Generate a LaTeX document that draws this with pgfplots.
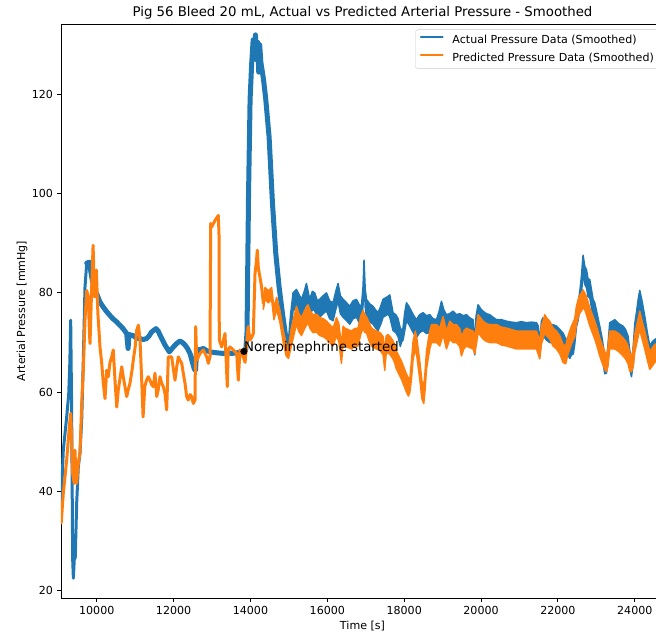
\documentclass[border=0pt]{standalone}
\usepackage{fontspec}
\setmainfont{DejaVu Sans}
\usepackage{pgfplots}
\pgfplotsset{compat=1.18}
\definecolor{mplblue}{HTML}{1F77B4}
\definecolor{mplorange}{HTML}{FF7F0E}

\newcommand{\ticksize}{\fontsize{11.07bp}{13bp}\selectfont}
\newcommand{\titlesize}{\fontsize{13.3bp}{16bp}\selectfont}

\begin{document}
\begin{tikzpicture}
\begin{axis}[
  name=main,
  scale only axis,
  width=603bp, height=574bp,
  xmin=9070, xmax=24760,
  ymin=18.5, ymax=134.2,
  scaled x ticks=false,
  scaled y ticks=false,
  axis line style={line width=0.9bp},
  tick style={line width=0.9bp, black},
  tick align=outside,
  tick pos=left,
  major tick length=3.9bp,
  xtick={10000,12000,14000,16000,18000,20000,22000,24000},
  xticklabels={10000,12000,14000,16000,18000,20000,22000,24000},
  ytick={20,40,60,80,100,120},
  yticklabels={20,40,60,80,100,120},
  ticklabel style={font=\ticksize},
  xticklabel style={inner sep=0pt, anchor=north, yshift=-3.9bp},
  yticklabel style={inner sep=0pt, anchor=east, xshift=-3.9bp},
  title={Pig 56 Bleed 20 mL, Actual vs Predicted Arterial Pressure - Smoothed},
  every axis title/.style={at={(axis description cs:0.5,1.0122)}, anchor=base, inner sep=0pt, font=\titlesize},
  xlabel={Time [s]},
  every axis x label/.style={at={(axis description cs:0.5,-0.0549)}, anchor=base, inner sep=0pt, font=\ticksize},
  ylabel={Arterial Pressure [mmHg]},
  every axis y label/.style={at={(axis description cs:-0.0595,0.5)}, rotate=90, anchor=base, inner sep=0pt, font=\ticksize},
  legend style={
    at={(1,1)}, anchor=north east, xshift=-5.5bp, yshift=-5.5bp,
    draw=black!20, rounded corners=2.5bp, fill=white, fill opacity=0.8, text opacity=1,
    font=\ticksize, inner xsep=4.4bp, inner ysep=5bp,
    row sep=7bp, column sep=8.9bp,
    nodes={inner sep=0pt, text height=8.6bp, text depth=2.4bp},
  },
  legend cell align=left,
  legend image code/.code={\draw[#1] (0bp,3.5bp) -- (22bp,3.5bp);},
  legend image post style={line width=1.7bp},
  every axis plot/.append style={line join=round, line cap=round},
]

% actual pressure, early transient
\addplot[mplblue, line width=3bp] table[x=t, y=p] {
t p
9075 37.6
9130 48.3
9218 55.0
9270 59.5
9300 66.0
9322 74.5
9345 58.0
9374 26.2
9392 22.5
9420 27.0
9440 26.5
9478 37.6
9520 44.9
9564 47.7
9609 54.4
9650 66.4
9694 81.1
9739 86.0
};
\addlegendentry{Actual Pressure Data (Smoothed)}

% actual pressure, recovery and norepinephrine peak
\addplot[mplblue, line width=5bp, forget plot] table[x=t, y=p] {
t p
9739 86.0
9806 86.2
9869 83.2
9954 80.1
10000 79.8
10080 78.2
10164 77.2
10250 76.3
10338 75.5
10420 74.8
10512 74.2
10600 73.5
10685 72.8
10780 71.8
10815 68.8
10840 71.6
10945 71.4
11030 70.9
11121 70.8
11210 70.6
11295 70.8
11360 71.3
11425 72.1
11542 72.8
11600 72.3
11646 71.5
11776 69.5
11888 68.1
11993 69.1
12080 69.8
12167 70.3
12230 70.0
12297 69.5
12360 68.8
12427 67.8
12490 66.0
12540 64.6
12570 64.4
12601 68.5
12700 68.6
12773 68.8
12850 68.4
12947 68.1
13050 68.0
13150 67.9
13294 67.8
13400 68.0
13500 67.8
13642 67.9
13750 68.1
13830 68.3
13880 68.7
13910 72.0
13950 100.0
13990 119.0
14030 126.0
14070 131.0
14100 128.0
14130 132.0
14160 127.0
14190 130.5
14215 124.5
14240 130.0
14270 126.5
14300 125.0
14340 123.0
14398 119.0
14485 111.4
14573 98.0
14658 88.0
14745 81.2
14833 75.8
14919 71.1
14979 68.5
};

% actual pressure, remainder: noise band between upper and lower envelope
\addplot[mplblue, fill=mplblue, line width=1.5bp, forget plot] table[x=t, y=p] {
t p
14979 69.5
15040 75.3
15108 80.0
15196 80.7
15326 78.7
15400 80.3
15456 81.9
15542 78.7
15610 80.3
15672 80.0
15740 78.4
15802 78.7
15890 79.4
15977 80.0
16060 78.4
16149 78.0
16220 80.3
16279 81.9
16340 79.4
16409 78.7
16500 78.0
16583 77.3
16670 78.4
16757 78.7
16830 77.6
16887 77.3
16930 81.3
16955 86.6
16985 80.8
17018 78.7
17100 77.8
17189 77.3
17250 76.6
17319 76.0
17390 77.3
17450 78.7
17580 79.3
17624 79.6
17710 76.0
17780 75.6
17840 74.8
17900 72.8
17929 72.5
17970 72.9
18014 76.0
18059 78.0
18120 77.3
18189 76.3
18250 75.4
18319 74.6
18400 75.6
18491 76.0
18580 75.4
18665 75.6
18750 74.8
18840 74.6
18910 76.3
18969 78.3
19030 76.6
19099 75.6
19180 75.8
19271 76.3
19360 75.6
19445 75.8
19530 75.4
19620 75.6
19700 75.0
19791 74.6
19836 69.9
19870 75.3
19922 77.6
19990 76.8
20052 76.3
20140 75.8
20226 75.6
20310 75.1
20400 74.6
20530 74.6
20660 74.3
20790 74.1
20921 74.0
21050 74.2
21181 74.0
21310 74.1
21441 74.0
21490 73.3
21527 69.5
21570 74.3
21613 75.0
21700 74.1
21787 73.6
21870 73.6
21961 73.3
22050 72.6
22133 71.9
22200 70.8
22263 70.5
22308 70.0
22352 71.0
22400 71.3
22438 73.3
22482 76.8
22523 78.0
22570 80.3
22612 83.4
22654 87.6
22700 85.3
22742 84.7
22784 82.8
22828 82.7
22914 78.7
22958 78.0
23020 75.8
23088 73.3
23150 70.8
23218 67.3
23262 66.4
23300 69.3
23348 74.0
23420 74.3
23478 74.6
23580 73.8
23694 73.3
23760 72.6
23824 71.3
23870 68.3
23913 65.7
23960 69.3
24000 73.8
24043 76.0
24090 78.8
24129 80.5
24190 78.3
24259 75.3
24320 72.3
24389 69.3
24450 70.1
24519 70.6
24640 71.1
24760 71.6
24760 68.0
24640 67.5
24519 67.0
24450 66.5
24389 65.7
24320 68.7
24259 71.7
24190 74.7
24129 76.9
24090 75.2
24043 72.4
24000 70.2
23960 65.7
23913 63.1
23870 64.7
23824 67.7
23760 69.0
23694 69.7
23580 70.2
23478 71.0
23420 70.7
23348 70.4
23300 65.7
23262 63.8
23218 63.7
23150 67.2
23088 69.7
23020 72.2
22958 74.4
22914 75.1
22828 79.1
22784 79.2
22742 81.1
22700 81.7
22654 84.0
22612 79.8
22570 76.7
22523 74.4
22482 73.2
22438 69.7
22400 67.7
22352 67.5
22308 66.8
22263 67.5
22200 67.2
22133 68.3
22050 69.0
21961 69.7
21870 70.0
21787 70.0
21700 70.5
21613 71.4
21570 70.7
21527 67.1
21490 69.7
21441 70.4
21310 70.5
21181 70.4
21050 70.6
20921 70.4
20790 70.5
20660 70.7
20530 71.0
20400 71.0
20310 71.5
20226 72.0
20140 72.2
20052 72.7
19990 73.2
19922 73.6
19870 71.7
19836 67.5
19791 71.0
19700 71.4
19620 72.0
19530 71.8
19445 72.2
19360 72.0
19271 72.7
19180 72.2
19099 72.0
19030 73.0
18969 74.3
18910 72.7
18840 71.0
18750 71.2
18665 72.0
18580 71.8
18491 72.4
18400 72.0
18319 71.0
18250 71.8
18189 72.7
18120 73.7
18059 74.4
18014 72.4
17970 70.5
17929 70.1
17900 69.2
17840 71.2
17780 72.0
17710 72.4
17624 75.2
17580 75.7
17450 75.1
17390 73.7
17319 72.4
17250 73.0
17189 73.7
17100 74.2
17018 75.1
16985 77.2
16955 83.0
16930 77.7
16887 73.7
16830 74.0
16757 75.1
16670 74.8
16583 73.7
16500 74.4
16409 75.1
16340 75.8
16279 78.3
16220 76.7
16149 74.4
16060 74.8
15977 76.4
15890 75.8
15802 75.1
15740 74.8
15672 76.4
15610 76.7
15542 75.1
15456 78.3
15400 76.7
15326 75.1
15196 77.1
15108 76.4
15040 71.7
14979 68.5
} -- cycle;

% predicted pressure, up to the norepinephrine peak
\addplot[mplorange, line width=3bp] table[x=t, y=p] {
t p
9075 33.6
9130 39.6
9218 46.3
9286 53.0
9322 55.7
9350 50.0
9374 43.6
9415 41.6
9434 48.3
9460 43.0
9478 41.6
9520 45.6
9564 47.7
9609 57.7
9650 64.4
9694 74.5
9739 80.5
9780 79.2
9810 72.0
9825 69.8
9869 81.2
9905 89.6
9940 79.2
9990 84.6
10030 75.8
10085 69.1
10130 65.8
10170 61.8
10215 58.7
10260 64.4
10300 63.1
10345 66.0
10390 67.1
10430 68.5
10475 62.4
10520 57.0
10560 60.4
10610 63.0
10650 65.1
10690 63.1
10735 61.1
10780 59.1
10820 60.5
10865 61.8
10920 64.5
10960 67.0
11000 69.1
11040 72.5
11085 73.5
11126 70.5
11170 62.4
11206 55.0
11250 61.1
11300 62.5
11340 63.1
11386 62.4
11430 61.5
11473 61.1
11515 63.8
11561 59.1
11600 60.5
11646 63.1
11690 61.8
11732 61.1
11776 59.7
11820 56.4
11862 67.1
11950 67.1
12036 62.4
12080 65.0
12122 67.1
12210 65.8
12252 63.8
12296 61.8
12340 59.1
12381 58.4
12430 59.5
12470 59.1
12513 57.7
12557 58.4
12575 73.2
12601 66.4
12687 67.8
12773 68.5
12862 67.1
12903 65.8
12947 67.1
12965 94.0
12991 93.3
13077 94.6
13163 95.6
13181 92.0
13189 70.5
13251 69.1
13337 71.8
13397 61.1
13420 68.5
13467 69.1
13553 68.5
13642 67.8
13683 62.4
13728 68.5
13813 67.1
13860 66.0
13901 69.8
13940 73.2
13988 70.5
14030 71.0
14074 71.8
14118 83.9
14150 86.0
14178 88.6
14205 85.0
14230 83.9
14290 81.2
14335 77.9
};
\addlegendentry{Predicted Pressure Data (Smoothed)}

% predicted pressure, remainder: noise band between upper and lower envelope
\addplot[mplorange, fill=mplorange, line width=1.5bp, forget plot] table[x=t, y=p] {
t p
14335 79.1
14380 81.1
14465 80.4
14550 81.1
14610 77.0
14680 79.1
14768 76.4
14855 72.3
14930 69.7
14990 68.8
15060 72.8
15196 77.3
15260 75.8
15326 75.0
15420 76.6
15498 77.6
15560 76.3
15628 75.6
15720 75.7
15803 75.0
15890 74.8
15977 74.3
16060 73.6
16149 72.9
16237 75.0
16300 73.8
16367 69.4
16410 73.3
16453 72.9
16540 72.6
16627 72.3
16710 72.8
16799 72.9
16870 75.3
16930 76.5
16975 75.5
17018 75.2
17080 74.1
17148 72.9
17210 72.6
17278 72.3
17370 72.0
17450 71.2
17494 68.0
17530 71.3
17580 71.6
17650 71.0
17710 70.3
17760 69.3
17799 68.2
17860 67.3
17929 66.2
18000 64.8
18059 63.6
18110 62.8
18145 62.5
18189 66.2
18232 70.3
18290 72.3
18330 70.8
18370 68.3
18405 66.2
18460 62.3
18508 61.0
18540 63.8
18580 68.2
18622 70.3
18665 72.3
18710 73.6
18840 73.6
18925 72.9
19012 75.2
19099 72.3
19186 74.3
19271 73.6
19359 73.6
19445 72.8
19490 70.9
19550 72.3
19620 72.9
19700 72.6
19791 72.3
19836 71.3
19880 73.3
19922 75.6
20052 74.3
20140 73.8
20226 73.6
20310 73.6
20400 73.6
20530 73.1
20660 72.9
20790 72.6
20921 72.3
21050 72.3
21181 72.3
21310 72.3
21441 72.3
21527 70.3
21570 73.3
21613 74.3
21657 75.6
21720 74.8
21787 74.3
21873 72.9
21961 72.3
22050 71.3
22133 69.6
22200 69.3
22263 71.3
22352 73.3
22438 74.8
22482 77.3
22550 79.3
22612 80.0
22654 80.6
22700 79.9
22742 79.2
22828 77.0
22958 74.3
23020 72.8
23088 70.9
23160 69.3
23218 68.2
23262 67.0
23300 68.8
23348 72.3
23478 72.3
23580 71.8
23694 70.9
23760 70.3
23824 69.3
23870 67.8
23913 67.0
23960 68.8
23999 71.6
24060 73.8
24129 76.3
24190 74.3
24259 72.3
24320 70.3
24389 68.2
24450 68.8
24519 69.6
24640 70.0
24760 70.4
24760 66.8
24640 66.4
24519 66.0
24450 65.2
24389 64.6
24320 66.7
24259 68.7
24190 70.7
24129 72.7
24060 70.2
23999 68.0
23960 65.2
23913 64.1
23870 64.2
23824 65.7
23760 66.7
23694 67.3
23580 68.2
23478 68.7
23348 68.7
23300 65.2
23262 64.1
23218 64.6
23160 65.7
23088 67.3
23020 69.2
22958 70.7
22828 73.4
22742 75.6
22700 76.6
22654 77.0
22612 76.4
22550 75.7
22482 73.7
22438 71.2
22352 69.7
22263 67.7
22200 65.7
22133 66.0
22050 67.7
21961 68.7
21873 69.3
21787 70.7
21720 71.2
21657 72.0
21613 70.7
21570 69.7
21527 66.7
21441 68.7
21310 68.7
21181 68.7
21050 68.7
20921 68.7
20790 69.0
20660 69.3
20530 69.5
20400 70.0
20310 70.0
20226 70.0
20140 70.2
20052 70.7
19922 72.0
19880 69.7
19836 67.7
19791 68.7
19700 69.0
19620 69.3
19550 68.7
19490 67.3
19445 69.2
19359 70.0
19271 70.0
19186 70.7
19099 68.7
19012 71.6
18925 69.3
18840 70.0
18710 70.0
18665 68.7
18622 66.7
18580 64.6
18540 60.2
18508 57.7
18460 58.7
18405 62.6
18370 64.7
18330 67.2
18290 68.7
18232 66.7
18189 62.6
18145 59.9
18110 59.2
18059 60.0
18000 61.2
17929 62.6
17860 63.7
17799 64.6
17760 65.7
17710 66.7
17650 67.4
17580 68.0
17530 67.7
17494 64.4
17450 67.6
17370 68.4
17278 68.7
17210 69.0
17148 69.3
17080 70.5
17018 72.0
16975 72.0
16930 72.9
16870 71.7
16799 69.3
16710 69.2
16627 68.7
16540 69.0
16453 69.3
16410 69.7
16367 65.8
16300 70.2
16237 71.4
16149 69.3
16060 70.0
15977 70.7
15890 71.2
15803 71.4
15720 72.1
15628 72.0
15560 72.7
15498 74.0
15420 73.0
15326 71.4
15260 72.2
15196 73.7
15060 69.2
14990 66.8
14930 67.3
14855 69.9
14768 74.0
14680 76.7
14610 74.6
14550 78.7
14465 78.0
14380 78.7
14335 76.7
} -- cycle;

% start of norepinephrine
\addplot[only marks, mark=*, mark size=3.3bp, black, forget plot] coordinates {(13830,68.2)};
\node[anchor=base west, inner sep=0pt, font=\titlesize] at (axis cs:13830,68.2) {Norepinephrine started};

\end{axis}
\pgfresetboundingbox
\path[use as bounding box] ([xshift=-61bp,yshift=-36bp]main.south west) rectangle ([xshift=-8bp,yshift=24bp]main.north east);
\end{tikzpicture}
\end{document}
